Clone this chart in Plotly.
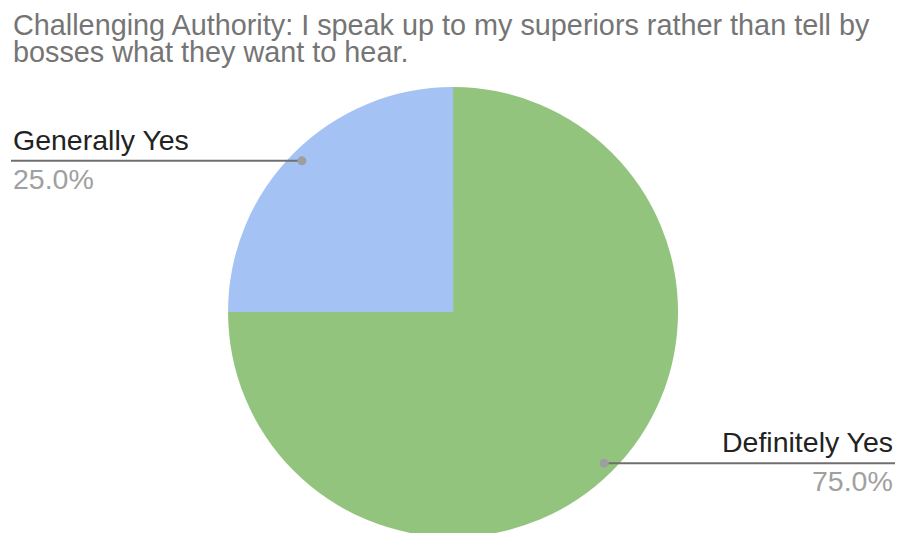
import math
import plotly.graph_objects as go

# ---- data ----
title_lines = ["Challenging Authority: I speak up to my superiors rather than tell by",
               "bosses what they want to hear."]
labels = ["Definitely Yes", "Generally Yes"]
values = [75, 25]
colors = ["#93c47d", "#a4c2f4"]

W, H = 898, 537          # figure slightly taller than the 533px window (pie is cut at the bottom)
ML, MR, MT, MB = 0, 0, 87, 0
dom_x = [0.009, 1.0]
dom_y = [0.0, 1.0]
FS_LABEL = 28.5
FS_TITLE = 28.8

fig = go.Figure(go.Pie(
    labels=labels, values=values, sort=False, direction="clockwise", rotation=0,
    marker=dict(colors=colors, line=dict(width=0)),
    textinfo="none", hoverinfo="label+percent", showlegend=False,
    domain=dict(x=dom_x, y=dom_y),
))

# pie geometry in pixels (derived from domain)
pw, ph = W - ML - MR, H - MT - MB
cx = ML + pw * (dom_x[0] + dom_x[1]) / 2
cy = MT + ph * (1 - (dom_y[0] + dom_y[1]) / 2)
r = min(pw * (dom_x[1] - dom_x[0]), ph * (dom_y[1] - dom_y[0])) / 2

def to_paper(px, py):
    return (px - ML) / pw, (H - MB - py) / ph

total = sum(values)
cum = 0
shapes, annotations = [], []
for lab, v in zip(labels, values):
    mid = (cum + v / 2) / total * 2 * math.pi  # clockwise from 12 o'clock
    cum += v
    dx, dy = math.sin(mid), -math.cos(mid)
    px, py = cx + 0.95 * r * dx, cy + 0.95 * r * dy
    pct = f"{v / total * 100:.1f}%"
    if dx < 0:
        ex, anchor = 11, "left"
    else:
        ex, anchor = 895, "right"
    x0, y0 = to_paper(px, py)
    x1, _ = to_paper(ex, py)
    shapes.append(dict(type="line", xref="paper", yref="paper", x0=x0, y0=y0, x1=x1, y1=y0,
                       line=dict(color="#6f6f6f", width=2)))
    shapes.append(dict(type="circle", xref="paper", yref="paper",
                       x0=x0 - 4.5 / pw, x1=x0 + 4.5 / pw, y0=y0 - 4.5 / ph, y1=y0 + 4.5 / ph,
                       fillcolor="#9e9e9e", line=dict(width=0)))
    annotations.append(dict(text=lab, xref="paper", yref="paper", x=x1, y=y0, yshift=3,
                            xanchor=anchor, yanchor="bottom", showarrow=False,
                            font=dict(size=FS_LABEL, color="#222222")))
    annotations.append(dict(text=pct, xref="paper", yref="paper", x=x1, y=y0, yshift=0,
                            xanchor=anchor, yanchor="top", showarrow=False,
                            font=dict(size=FS_LABEL, color="#a0a0a0")))

# title lines as separate annotations (tight line spacing as in the reference)
title_baselines = [34, 61]
for line, base in zip(title_lines, title_baselines):
    tx, ty = to_paper(11, base - 0.32 * FS_TITLE)
    annotations.append(dict(text=line, xref="paper", yref="paper", x=tx, y=ty,
                            xanchor="left", yanchor="middle", showarrow=False,
                            font=dict(size=FS_TITLE, color="#757575")))

fig.update_layout(
    width=W, height=H,
    margin=dict(l=ML, r=MR, t=MT, b=MB),
    paper_bgcolor="white", plot_bgcolor="white",
    font=dict(family="Arial, Liberation Sans, sans-serif"),
    shapes=shapes, annotations=annotations,
)

fig.write_html("out.html", config={"displayModeBar": False},
               post_script="document.body.style.margin='0px';document.body.style.overflow='hidden';")
